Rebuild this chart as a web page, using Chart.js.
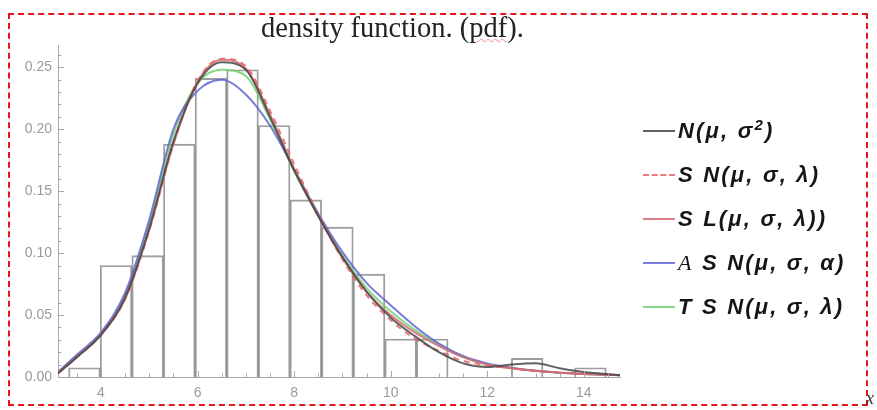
<!DOCTYPE html>
<html>
<head>
<meta charset="utf-8">
<script src="https://cdn.jsdelivr.net/npm/chart.js@4.4.1/dist/chart.umd.min.js"></script>
<style>
  html, body { margin: 0; padding: 0; background: #fff; }
  #wrap { position: relative; width: 877px; height: 410px; overflow: hidden; }
  #frame { position: absolute; left: 8px; top: 13px; width: 856px; height: 389px; border: 2px dashed #e8141c; }
  #myChart { position: absolute; left: 0; top: 0; }
  #title { position: absolute; left: 0; width: 785px; top: 12px; text-align: center;
           font-family: "Liberation Serif", "Times New Roman", serif; font-size: 28.5px; color: #222; }
  #title .sp { text-decoration: underline wavy #e88; text-decoration-thickness: 1px; }
  #legend { position: absolute; left: 643px; top: 109px; font-family: "Liberation Sans", Arial, sans-serif;
            font-weight: bold; font-style: italic; font-size: 22px; color: #151515; }
  #legend .item { height: 44px; display: flex; align-items: center; white-space: nowrap; }
  #legend .txt { letter-spacing: 2.2px; }
  #legend .txt sup { font-size: 15px; vertical-align: 8px; line-height: 0; }
  #legend .ln { display: inline-block; width: 32px; margin-right: 3px; border-top: 2px solid; }
  #legend .serif { font-family: "Liberation Serif", serif; font-weight: normal; }
  #stray { position: absolute; left: 866px; top: 388px; font-family: "Liberation Serif", serif; font-style: italic; font-size: 18px; color: #333; }
</style>
</head>
<body>
<div id="wrap">
  <canvas id="myChart" width="877" height="410"></canvas>
  <div id="frame"></div>
  <div id="title">density function. (<span class="sp">pdf</span>).</div>
  <div id="legend"></div>
  <div id="stray">x</div>
</div>
<script>
// histogram (density), bins of width ~0.655
const binCenters = [3.6575, 4.3125, 4.9675, 5.6225, 6.2775, 6.9325, 7.5875, 8.2425, 8.8975,
                    9.5525, 10.2075, 10.8625, 11.5175, 12.1725, 12.8275, 13.4825, 14.1375];
const binDensity = [0.0075, 0.090, 0.098, 0.188, 0.241, 0.248, 0.203, 0.143, 0.121,
                    0.083, 0.0306, 0.0306, 0, 0, 0.015, 0, 0.0075];

// fitted densities read at these x values
const xs = [3.11, 3.5, 4.0, 4.5, 5.0, 5.5, 6.0, 6.5, 7.0, 7.5, 8.0, 8.5, 9.0, 9.5,
            10.0, 10.5, 11.0, 11.5, 12.0, 12.5, 13.0, 13.5, 14.0, 14.75];
const pdfN   = [0.003, 0.016, 0.034, 0.064, 0.120, 0.190, 0.237, 0.254, 0.248, 0.210, 0.167, 0.130, 0.097, 0.069,
                0.048, 0.033, 0.020, 0.011, 0.008, 0.010, 0.011, 0.007, 0.004, 0.0015];
const pdfSN  = [0.003, 0.016, 0.034, 0.063, 0.118, 0.188, 0.239, 0.257, 0.251, 0.215, 0.172, 0.131, 0.095, 0.066,
                0.046, 0.031, 0.021, 0.013, 0.0095, 0.007, 0.005, 0.0035, 0.0025, 0.0015];
const pdfSL  = [0.003, 0.016, 0.034, 0.063, 0.119, 0.188, 0.238, 0.256, 0.249, 0.212, 0.168, 0.130, 0.096, 0.069,
                0.050, 0.036, 0.025, 0.016, 0.010, 0.007, 0.005, 0.0035, 0.0025, 0.0015];
const pdfASN = [0.004, 0.018, 0.036, 0.068, 0.127, 0.200, 0.231, 0.240, 0.228, 0.203, 0.168, 0.132, 0.101, 0.076,
                0.058, 0.041, 0.027, 0.017, 0.011, 0.0075, 0.005, 0.0035, 0.0025, 0.0015];
const pdfTSN = [0.0035, 0.017, 0.035, 0.066, 0.124, 0.196, 0.237, 0.248, 0.243, 0.208, 0.166, 0.130, 0.098, 0.072,
                0.053, 0.038, 0.026, 0.016, 0.010, 0.007, 0.005, 0.0035, 0.0025, 0.0015];

const xTicks = [4, 6, 8, 10, 12, 14];
const xMinor = [3.5, 4.5, 5, 5.5, 6.5, 7, 7.5, 8.5, 9, 9.5, 10.5, 11, 11.5, 12.5, 13, 13.5, 14.5];
const yTicks = [0, 0.05, 0.10, 0.15, 0.20, 0.25];
const yMinor = [0.01, 0.02, 0.03, 0.04, 0.06, 0.07, 0.08, 0.09, 0.11, 0.12, 0.13, 0.14,
                0.16, 0.17, 0.18, 0.19, 0.21, 0.22, 0.23, 0.24, 0.26];

const series = [
    { label: 'N(μ, σ<sup>2</sup>)',                        data: pdfN,   color: 'rgba(70,70,70,0.85)',    dash: [] },
    { label: 'S N(μ, σ, λ)',                              data: pdfSN,  color: 'rgba(232,100,100,0.85)', dash: [6, 5] },
    { label: 'S L(μ, σ, λ))',                             data: pdfSL,  color: 'rgba(214,105,115,0.85)', dash: [] },
    { label: '<span class="serif">A</span> S N(μ, σ, α)', data: pdfASN, color: 'rgba(100,100,210,0.85)', dash: [] },
    { label: 'T S N(μ, σ, λ)',                            data: pdfTSN, color: 'rgba(110,210,110,0.85)', dash: [] }
];

// Mathematica-like ticks drawn on the inside of the axes
const innerTicks = {
    id: 'innerTicks',
    afterDraw(chart) {
        const c = chart.ctx, sx = chart.scales.x, sy = chart.scales.y;
        const x0 = sx.left, y0 = sy.bottom;
        c.save();
        c.strokeStyle = '#a8a8a8';
        c.lineWidth = 1;
        c.beginPath();
        yTicks.forEach(v => { let p = Math.round(sy.getPixelForValue(v)) + 0.5; c.moveTo(x0, p); c.lineTo(x0 + 6, p); });
        yMinor.forEach(v => { let p = Math.round(sy.getPixelForValue(v)) + 0.5; c.moveTo(x0, p); c.lineTo(x0 + 3.5, p); });
        xTicks.forEach(v => { let p = Math.round(sx.getPixelForValue(v)) + 0.5; c.moveTo(p, y0); c.lineTo(p, y0 - 6); });
        xMinor.forEach(v => { let p = Math.round(sx.getPixelForValue(v)) + 0.5; c.moveTo(p, y0); c.lineTo(p, y0 - 3.5); });
        c.stroke();
        c.restore();
    }
};

let datasets = [{
    type: 'bar',
    label: 'hist',
    data: binCenters.map((x, i) => ({ x: x, y: binDensity[i] })),
    backgroundColor: 'rgba(255,255,255,0)',
    borderColor: 'rgba(115,115,115,0.7)',
    borderWidth: 1.2,
    barPercentage: 1,
    categoryPercentage: 1,
    order: 10
}];
series.forEach(s => {
    datasets.push({
        type: 'line',
        label: s.label,
        data: xs.map((x, i) => ({ x: x, y: s.data[i] })),
        borderColor: s.color,
        borderWidth: 2,
        borderDash: s.dash,
        pointRadius: 0,
        fill: false,
        cubicInterpolationMode: 'monotone',
        order: 1
    });
});

const tickFont = { family: '"Liberation Sans", Arial, sans-serif', size: 14 };
const ctx = document.getElementById('myChart').getContext('2d');
const myChart = new Chart(ctx, {
    type: 'line',
    data: { datasets: datasets },
    options: {
        responsive: false,
        animation: false,
        layout: { padding: { top: 45, right: 257, left: 0, bottom: 0 } },
        plugins: { legend: { display: false }, tooltip: { enabled: false } },
        scales: {
            x: {
                type: 'linear', min: 3.11, max: 14.75, offset: false,
                grid: { display: false, drawTicks: false },
                border: { display: true, color: '#a8a8a8', width: 1 },
                afterBuildTicks: s => { s.ticks = xTicks.map(v => ({ value: v })); },
                afterFit: s => { s.height = 33; },
                ticks: { color: '#9a9a9a', font: tickFont, padding: 8, maxRotation: 0 }
            },
            y: {
                type: 'linear', min: 0, max: 0.268,
                grid: { display: false, drawTicks: false },
                border: { display: true, color: '#a8a8a8', width: 1 },
                afterBuildTicks: s => { s.ticks = yTicks.map(v => ({ value: v })); },
                afterFit: s => { s.width = 58; },
                ticks: { color: '#9a9a9a', font: tickFont, padding: 6, callback: v => v.toFixed(2) }
            }
        }
    },
    plugins: [innerTicks]
});

// legend
let html = '';
series.forEach(s => {
    let st = s.dash.length ? 'dashed' : 'solid';
    html += `<div class="item"><span class="ln" style="border-top-style:${st};border-color:${s.color}"></span><span class="txt">${s.label}</span></div>`;
});
document.getElementById('legend').innerHTML = html;
</script>
</body>
</html>
